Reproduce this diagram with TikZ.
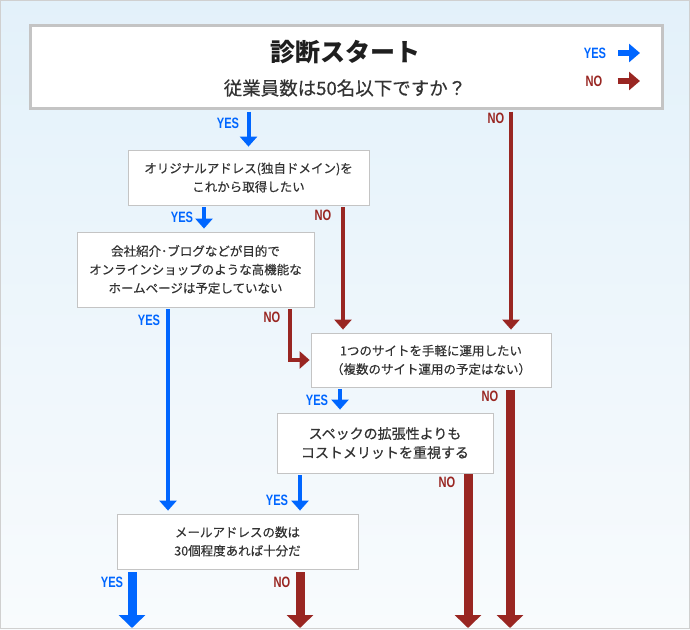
\documentclass[tikz,border=0pt]{standalone}
\usepackage{fontspec}
\usepackage{xcolor}
\usepackage{tikz}
\usetikzlibrary{arrows.meta,positioning,calc}
\setmainfont{Noto Sans CJK JP}
\newfontfamily\jptext[FakeBold=0.35]{Noto Sans CJK JP}
\newfontfamily\jpheavy[FakeBold=0.7]{Noto Sans CJK JP}
\newfontfamily\yesnofont[FakeStretch=0.74]{Liberation Sans}
\definecolor{yesblue}{HTML}{0066FF}
\definecolor{nored}{HTML}{992622}
\definecolor{ink}{HTML}{333333}
\definecolor{boxline}{HTML}{C4C4C4}
\definecolor{bgtop}{HTML}{E3F1FA}
\definecolor{bgbot}{HTML}{F8FBFD}

\begin{document}
\begin{tikzpicture}[
  x=1pt,y=-1pt,
  q/.style={draw=boxline,fill=white,line width=0.8pt,inner sep=0pt,align=center,text=ink,font=\jptext\fontsize{12.5}{18.5}\selectfont},
  lyes/.style={text=yesblue,inner sep=0pt,font=\yesnofont\bfseries\fontsize{15}{15}\selectfont},
  lno/.style={lyes,text=nored},
  ya/.style={draw=yesblue,line width=4pt,-{Triangle[width=17pt,length=10pt]},shorten <=2pt,shorten >=3pt},
  na/.style={ya,draw=nored,line width=4.5pt,miter limit=10},
  yb/.style={draw=yesblue,line width=9pt,-{Triangle[width=26pt,length=13pt]},shorten <=3pt},
  nb/.style={yb,draw=nored},
  key/.style={line width=6pt,-{Triangle[width=18pt,length=11pt]}}]
  \useasboundingbox (0,0) rectangle (690,629);
  \shade[top color=bgtop,bottom color=bgbot] (0,0) rectangle (690,629);
  \draw[boxline!80,line width=1pt] (0.5,0.5) rectangle (689.5,628.5);
  % start box and legend
  \node[draw=boxline,fill=white,line width=3pt,minimum width=632pt,minimum height=83pt] (start) at (346,66.5) {};
  \node[text=black!88,font=\bfseries\fontsize{25}{25}\selectfont] (title) at (345,52) {診断スタート};
  \node[text=ink,font=\jptext\fontsize{18.5}{19}\selectfont] (sub) at (345,88) {従業員数は50名以下ですか？};
  \node[lyes] (kyes) at (595,53) {YES};
  \node[lno] (kno) at (594,81) {NO};
  \coordinate (kyend) at (640,53);
  \coordinate (knoend) at (640,81);
  \draw[key,yesblue] ([xshift=12pt]kyes.east) -- (kyend);
  \draw[key,nored] ([xshift=15pt]kno.east) -- (knoend);
  % questions
  \node[q,minimum width=241pt,minimum height=55pt] (q1) at (248.5,177.5) {オリジナルアドレス(独自ドメイン)を\\これから取得したい};
  \node[q,minimum width=237pt,minimum height=75pt] (q2) at (195.5,269.5) {会社紹介･ブログなどが目的で\\オンラインショップのような高機能な\\ホームページは予定していない};
  \node[q,minimum width=240pt,minimum height=54pt] (q3) at (431,360) {1つのサイトを手軽に運用したい\\（複数のサイト運用の予定はない）};
  \node[q,minimum width=216pt,minimum height=60pt,font=\jpheavy\fontsize{14}{19}\selectfont] (q4) at (385,443) {スペックの拡張性よりも\\コストメリットを重視する};
  \node[q,minimum width=241pt,minimum height=55pt] (q5) at (237.5,541.5) {メールアドレスの数は\\30個程度あれば十分だ};
  % columns of the connectors
  \coordinate (c0) at (511,0);
  \coordinate (c1) at (204,0);
  \coordinate (c2) at (343,0);
  \coordinate (c3) at (168,0);
  \coordinate (c4) at (290,0);
  \coordinate (c5) at (340,0);
  \coordinate (c6) at (300,0);
  \coordinate (o1) at (132,628);
  \coordinate (o2) at (300,628);
  \coordinate (o3) at (468,628);
  \coordinate (o4) at (510,628);
  \draw[ya] (start.south -| q1) -- (q1.north); \draw[na] (start.south -| c0) -- (q3.north -| c0);
  \draw[ya] (q1.south -| c1) -- (q2.north -| c1); \draw[na] (q1.south -| c2) -- (q3.north -| c2);
  \draw[ya] (q2.south -| c3) -- (q5.north -| c3); \draw[na,shorten >=1pt] (q2.south -| c4) |- (q3.west);
  \draw[ya] (q3.south -| c5) -- (q4.north -| c5); \draw[nb] (q3.south -| o4) -- (o4);
  \draw[ya] (q4.south -| c6) -- (q5.north -| c6); \draw[nb,shorten <=1pt] (q4.south -| o3) -- (o3);
  \draw[yb] (q5.south -| o1) -- (o1); \draw[nb] (q5.south -| o2) -- (o2);
  % labels
  \node[lyes] (y0) at (228,123) {YES};
  \node[lno] (n0) at (496,118) {NO};
  \node[lyes] (y1) at (182,217) {YES};
  \node[lno] (n1) at (323,215) {NO};
  \node[lyes] (y2) at (149,320) {YES};
  \node[lno] (n2) at (272,317) {NO};
  \node[lyes] (y3) at (317,400) {YES};
  \node[lno] (n3) at (490,396) {NO};
  \node[lyes] (y4) at (277,500) {YES};
  \node[lno] (n4) at (447,482) {NO};
  \node[lyes] (y5) at (112,582) {YES};
  \node[lno] (n5) at (282,582) {NO};
\end{tikzpicture}
\end{document}
